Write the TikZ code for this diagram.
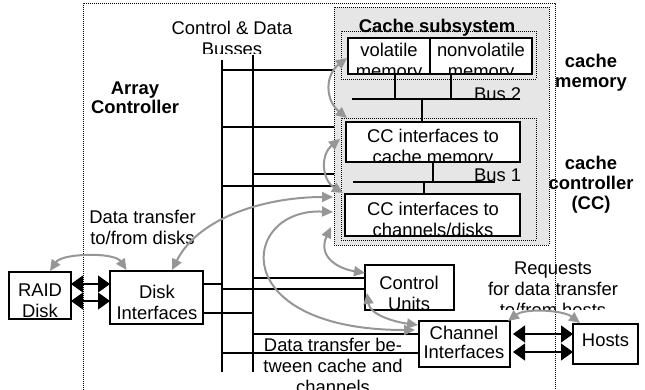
\documentclass[tikz,border=0pt]{standalone}
\usepackage{fontspec}
\setmainfont{Liberation Sans}
\usetikzlibrary{arrows.meta,calc}
\definecolor{arrgray}{RGB}{150,150,150}
\definecolor{subfill}{RGB}{230,230,230}
\begin{document}
\begin{tikzpicture}[x=1pt,y=-1pt,
  every node/.style={font=\fontsize{18.4}{21}\selectfont, inner sep=0pt, outer sep=0pt},
  box/.style={draw, line width=1.1pt, fill=white},
  dotframe/.style={draw, line width=0.8pt, dash pattern=on 0.8pt off 1.2pt},
  txt/.style={anchor=base, align=center},
  btxt/.style={anchor=base, align=center, font=\fontsize{18.4}{20}\selectfont\bfseries},
  tap/.style={line width=1.1pt},
  bus/.style={line width=1.2pt},
  garr/.style={draw=arrgray, line width=2pt, {Triangle[length=11pt,width=10pt]}-{Triangle[length=11pt,width=10pt]}},
  blk/.style={line width=1.2pt, {Triangle[length=12pt,width=17pt]}-{Triangle[length=12pt,width=17pt]}}
]
\useasboundingbox (0,0) rectangle (645,389);
\clip (0,0) rectangle (645,389);

% frames
\node[dotframe, minimum width=472pt, minimum height=392pt] (frame) at (319,199) {};
\node[dotframe, fill=subfill, minimum width=215pt, minimum height=238pt] (cachesub) at (441.5,126) {};
\node[dotframe, minimum width=195pt, minimum height=48pt] (cmbox) at (438.5,55) {};
\node[dotframe, minimum width=195pt, minimum height=122pt] (ccbox) at (438.5,179) {};

% boxes
\node[box, minimum width=82pt, minimum height=36pt] (vol) at (389,56) {};
\node[box, minimum width=102pt, minimum height=36pt] (nonvol) at (481,56) {};
\node[box, minimum width=174pt, minimum height=40pt] (ccmem) at (433,142) {};
\node[box, minimum width=175pt, minimum height=42pt] (ccch) at (432.5,215) {};
\node[box, minimum width=89pt, minimum height=45pt] (ctrl) at (409.5,287.5) {};
\node[box, minimum width=91pt, minimum height=46pt] (chan) at (464.5,344) {};
\node[box, minimum width=65pt, minimum height=40pt] (hosts) at (605.5,344) {};
\node[box, minimum width=62pt, minimum height=47pt] (raid) at (40,295.5) {};
\node[box, minimum width=93pt, minimum height=53pt] (disk) at (156.5,297.5) {};

% busses
\coordinate (bA1) at (222,60);
\coordinate (bA2) at (222,372);
\coordinate (bB1) at (253,55);
\coordinate (bB2) at (253,372);
\draw[bus] (bA1) -- (bA2);
\draw[bus] (bB1) -- (bB2);
\draw[tap] (bA1 |- 0,70) -- (cachesub.west |- 0,70);
\draw[tap] (bA1 |- 0,127) -- (cachesub.west |- 0,127);
\draw[tap] (bB1 |- 0,174) -- (cachesub.west |- 0,174);
\draw[tap] (bA1 |- 0,186) -- (cachesub.west |- 0,186);
\draw[tap] (disk.east |- 0,284) -- (bA1 |- 0,284);
\draw[tap] (bA1 |- 0,289) -- (ctrl.west |- 0,289);
\draw[tap] (bB1 |- 0,278) -- (ctrl.west |- 0,278);
\draw[tap] (disk.east |- 0,313) -- (bB1 |- 0,313);
\draw[tap] (bB1 |- 0,334) -- (chan.west |- 0,334);
\draw[tap] (bA1 |- 0,353) -- (chan.west |- 0,353);

% internal buses
\coordinate (bus2L) at (352,99);
\coordinate (bus2R) at (520,99);
\coordinate (bus1L) at (353,182);
\coordinate (bus1R) at (495,182);
\draw[tap] (bus2L) -- (bus2R);
\draw[tap] ([xshift=6pt]vol.south) -- ([xshift=6pt]vol.south |- bus2L);
\draw[tap] ([xshift=-30pt]nonvol.south) -- ([xshift=-30pt]nonvol.south |- bus2L);
\draw[tap] ([xshift=-11pt]ccmem.north |- bus2L) -- ([xshift=-11pt]ccmem.north);
\draw[tap] (bus1L) -- (bus1R);
\draw[tap] (ccmem.south) -- (ccmem.south |- bus1L);
\draw[tap] ([xshift=-8.5pt]ccch.north |- bus1L) -- ([xshift=-8.5pt]ccch.north);

% texts (anchor=base of a multi-line node = baseline of its last line)
\node[btxt] (tsub) at (437,32) {Cache subsystem};
\begin{scope}
\clip (0,0) rectangle (645,53.5);
\node[txt] (tbus) at (232,55) {Control \& Data\\Busses};
\end{scope}
\node[btxt] (tarr) at (135,113) {Array\\[-1pt]Controller};
\begin{scope}
\clip (vol.south west) rectangle (vol.north east);
\node[txt] (tvol) at (389,77) {volatile\\memory};
\end{scope}
\begin{scope}
\clip (nonvol.south west) rectangle (nonvol.north east);
\node[txt] (tnonvol) at (481,77) {nonvolatile\\memory};
\end{scope}
\node[anchor=base west] (tbus2) at (474,100.5) {Bus 2};
\begin{scope}
\clip (ccmem.south west) rectangle (ccmem.north east);
\node[txt] (tccmem) at (433,163) {CC interfaces to\\cache memory};
\end{scope}
\node[anchor=base west] (tbus1) at (474,181) {Bus 1};
\begin{scope}
\clip (ccch.south west) rectangle (ccch.north east);
\node[txt] (tccch) at (433,236) {CC interfaces to\\channels/disks};
\end{scope}
\node[btxt] (tcm) at (591,87) {cache\\memory};
\node[btxt] (tcc) at (591,209) {cache\\controller\\(CC)};
\node[txt] (tdtd) at (142.5,244) {Data transfer\\to/from disks};
\begin{scope}
\clip (raid.south west) rectangle (raid.north east);
\node[txt] (traid) at (40,317) {RAID\\Disk};
\end{scope}
\begin{scope}
\clip (disk.south west) rectangle (disk.north east);
\node[txt] (tdisk) at (157,319) {Disk\\Interfaces};
\end{scope}
\begin{scope}
\clip (ctrl.south west) rectangle (ctrl.north east);
\node[txt] (tctrl) at (409,310) {Control\\Units};
\end{scope}
\node[txt] (tchan) at (464,358) {Channel\\[-2pt]Interfaces};
\node[txt] (thosts) at (605.5,346) {Hosts};
\begin{scope}
\clip (0,0) rectangle (645,309);
\node[txt] (treq) at (553,316) {Requests\\for data transfer\\to/from hosts};
\end{scope}
\node[txt] (tdtc) at (333,393) {Data transfer be-\\tween cache and\\channels};

% black double arrows
\draw[blk] ([yshift=11.5pt]raid.east) -- ([yshift=11.5pt]raid.east -| disk.west);
\draw[blk] ([yshift=-5.5pt]raid.east) -- ([yshift=-5.5pt]raid.east -| disk.west);
\draw[blk] ([xshift=3pt,yshift=10pt]chan.east) -- ([yshift=10pt]hosts.west);
\draw[blk] ([xshift=3pt,yshift=-8pt]chan.east) -- ([yshift=-8pt]hosts.west);

% gray curved arrows
\draw[garr] ([xshift=10pt,yshift=1pt]raid.north) .. controls +(12,-18) and +(-12,-18) .. ([xshift=-30pt,yshift=1pt]disk.north);
\draw[garr] ([xshift=15.5pt,yshift=1pt]disk.north) .. controls +(28,-55) and +(-63,0) .. ([xshift=-12pt,yshift=18pt]ccch.west);
\draw[garr] ([xshift=-12pt,yshift=3pt]ccch.west) .. controls +(-93,-4) and +(-190,0) .. ([xshift=-4pt,yshift=14pt]chan.west);
\draw[garr] ([xshift=-14pt,yshift=-12pt]ccch.west) .. controls +(-13,28) and +(-30,-5) .. ([yshift=14.5pt]ctrl.west);
\draw[garr] ([xshift=2pt,yshift=-5.5pt]ctrl.west) .. controls +(3,22) and +(-23,-3) .. ([xshift=-1pt,yshift=19pt]chan.west);
\draw[garr] ([xshift=-1pt,yshift=-2pt]vol.west) .. controls +(-22,17) and +(-22,-18) .. ([xshift=1pt,yshift=4pt]ccmem.north west);
\draw[garr] ([xshift=-6pt,yshift=3pt]ccmem.west) .. controls +(-20,16) and +(-21,-13) .. ([xshift=-2pt,yshift=1pt]ccch.north west);
\draw[garr] ([xshift=-2pt]chan.north east) .. controls +(17,-13) and +(-17,-13) .. ([xshift=7pt,yshift=1pt]hosts.north west);
\end{tikzpicture}
\end{document}
